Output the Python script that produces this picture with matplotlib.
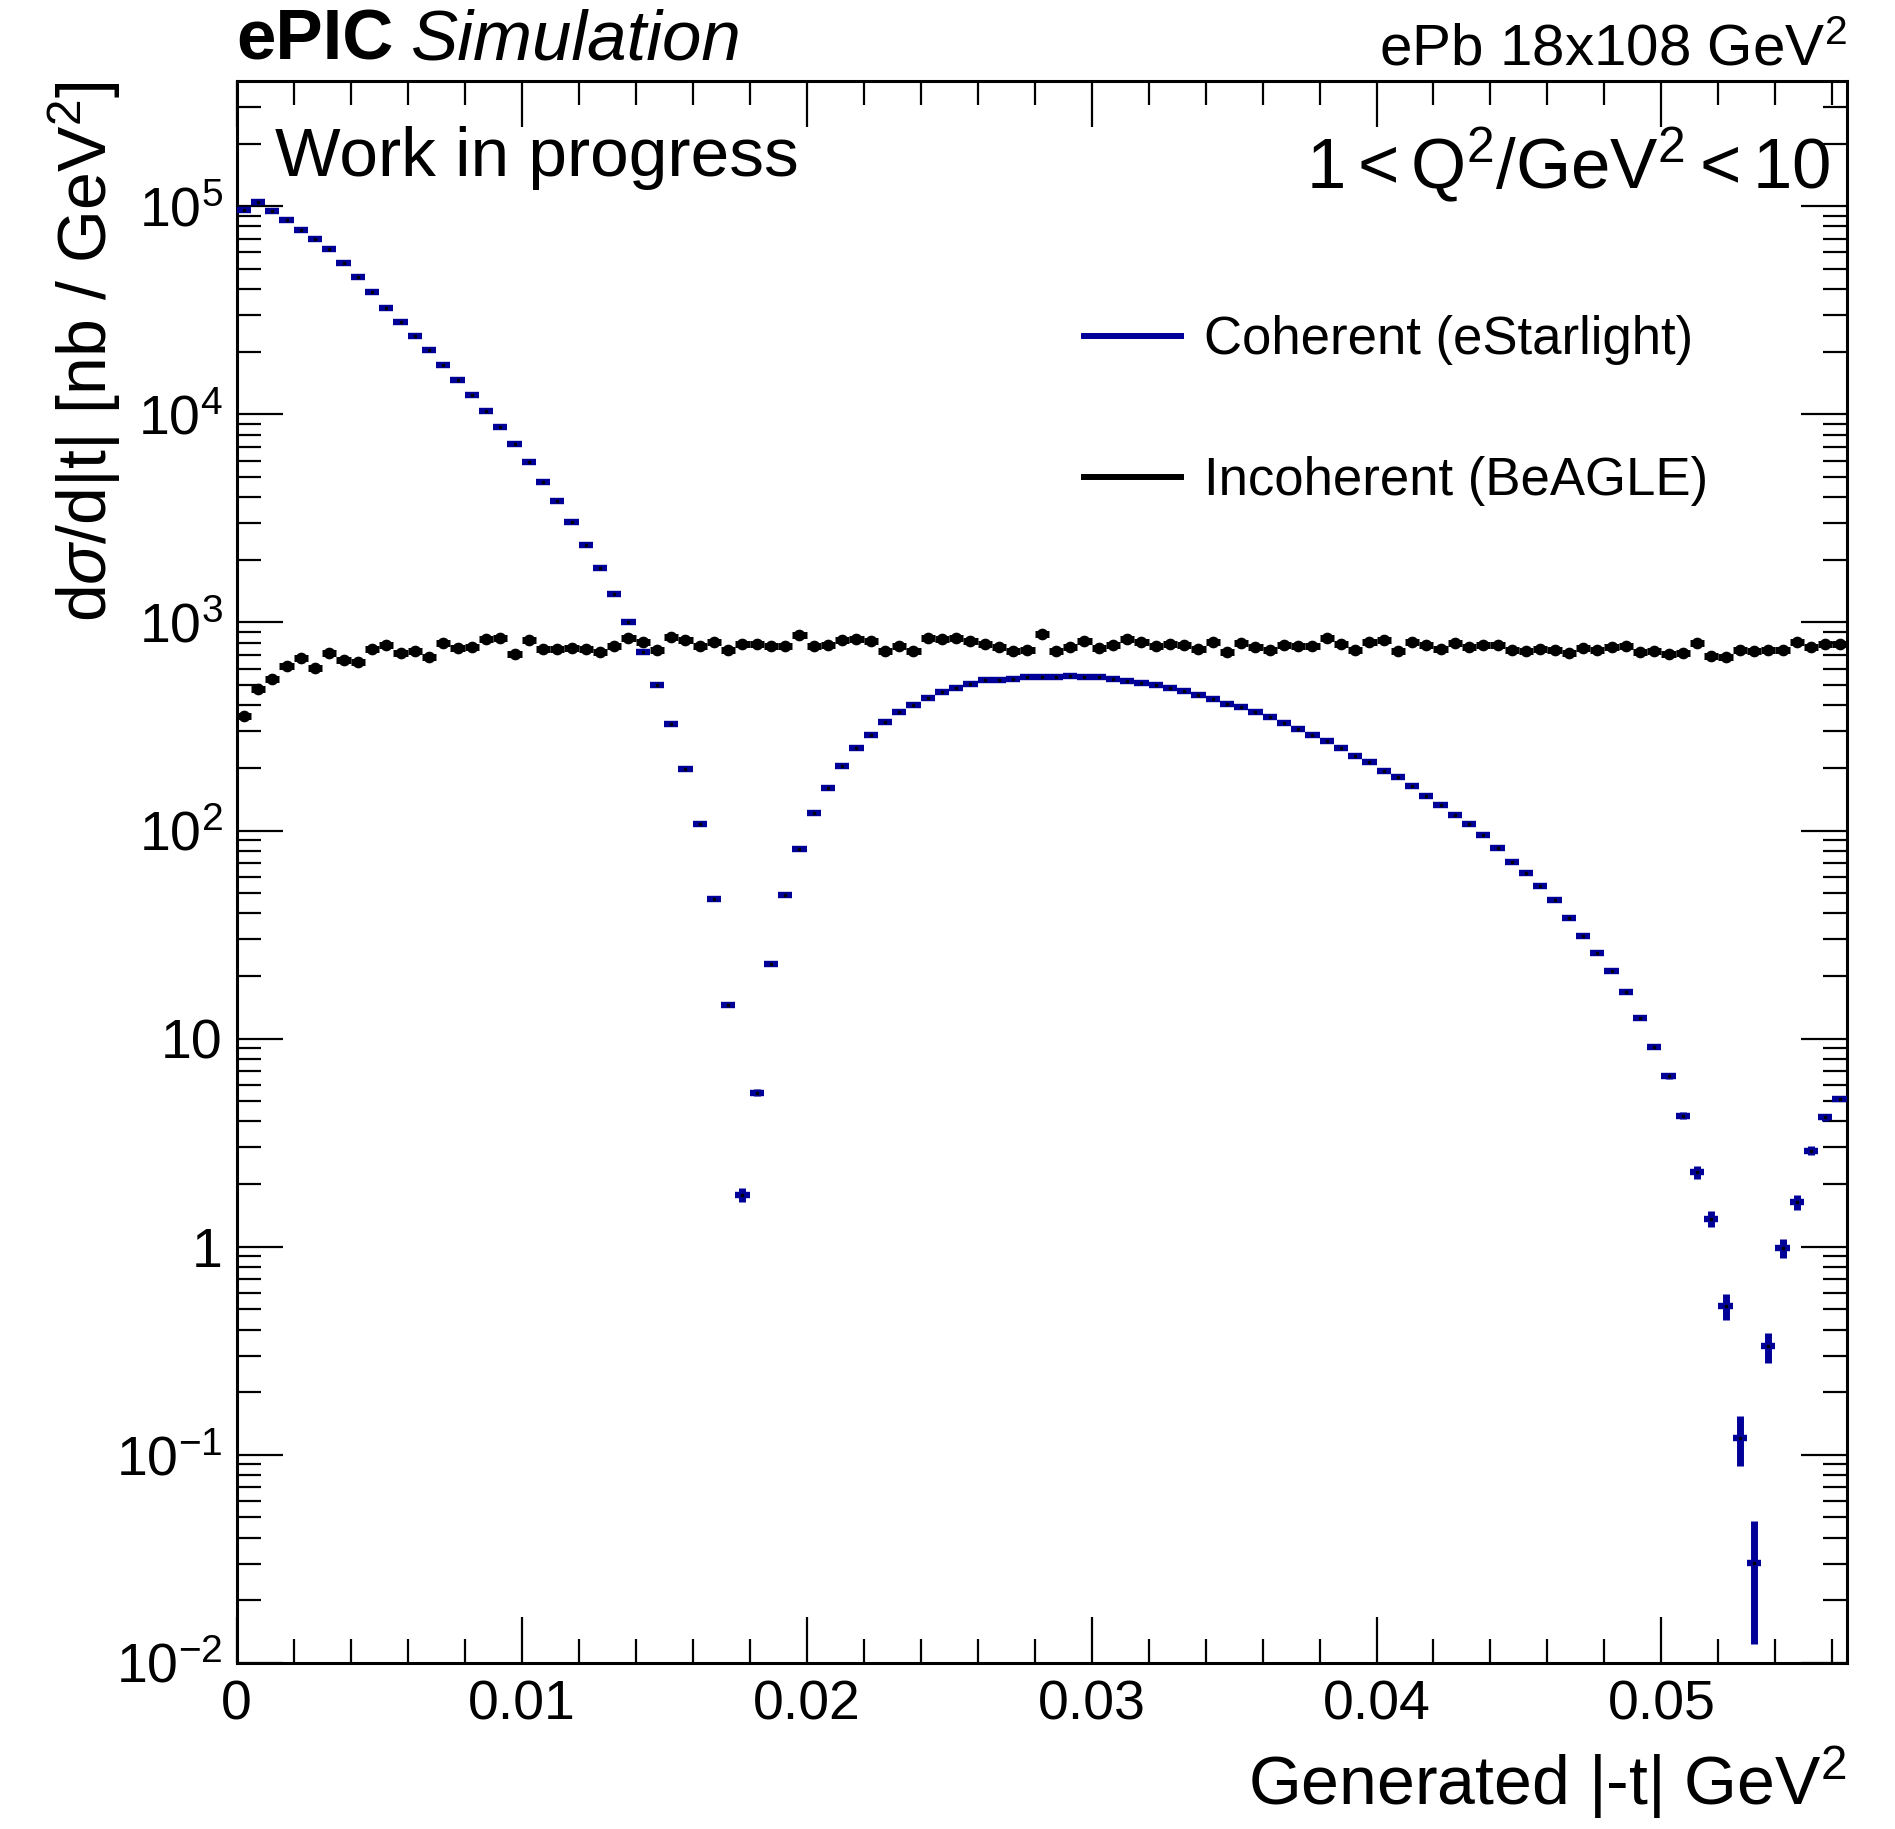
import matplotlib
matplotlib.use("Agg")
import matplotlib.pyplot as plt
from matplotlib.lines import Line2D
from matplotlib.ticker import FixedLocator, FuncFormatter, NullFormatter
import numpy as np

plt.rcParams['font.family'] = ['Liberation Sans', 'DejaVu Sans']
plt.rcParams['mathtext.fontset'] = 'custom'
plt.rcParams['mathtext.rm'] = 'Liberation Sans'
plt.rcParams['mathtext.it'] = 'Liberation Sans:italic'
plt.rcParams['mathtext.bf'] = 'Liberation Sans:bold'

# histogram binning in |t| (GeV^2)
t_edges = np.linspace(0.0, 0.0565, 114)
t_centers = 0.5*(t_edges[1:] + t_edges[:-1])
half_bin = 0.5*(t_edges[1] - t_edges[0])

# coherent (eStarlight), nb/GeV^2
coherent = [
    9.6e4, 1.05e5, 9.5e4, 8.6e4, 7.7e4, 6.95e4, 6.26e4, 5.35e4, 4.57e4, 3.88e4,
    3.25e4, 2.78e4, 2.38e4, 2.03e4, 1.73e4, 1.47e4, 1.24e4, 1.04e4, 8.7e3, 7.2e3,
    5.88e3, 4.75e3, 3.84e3, 3.03e3, 2.35e3, 1.82e3, 1.37e3, 1.01e3, 725, 500,
    325, 198, 107, 47.0, 14.5, 1.78, 5.5, 22.8, 49.1, 81.7,
    122, 161, 204, 248, 288, 331, 370, 402, 435, 461,
    484, 508, 527, 530, 536, 546, 550, 550, 556, 550,
    548, 537, 526, 513, 498, 486, 466, 449, 431, 408,
    393, 372, 353, 330, 306, 287, 269, 249, 228, 213,
    194, 181, 163, 147, 132, 119, 107, 95.1, 82.6, 71.0,
    62.8, 54.2, 46.2, 38.2, 31.3, 25.7, 21.2, 16.7, 12.5, 9.07,
    6.58, 4.27, 2.28, 1.36, 0.521, 0.121, 0.0303, 0.332, 0.99, 1.64,
    2.90, 4.19, 5.15]

# bins where the coherent stat. error is visible
coh_err_bins = [35, 36, 100, 101, 102, 103, 104, 105, 106, 107, 108, 109, 110, 111, 112]
coh_err_vals = [0.14, 0.22, 0.2, 0.17, 0.16, 0.12, 0.075, 0.033, 0.018, 0.055, 0.105, 0.13, 0.15, 0.17, 0.16]

# incoherent (BeAGLE), nb/GeV^2
incoherent = [
    357, 477, 537, 618, 678, 605, 714, 661, 649, 748,
    782, 714, 730, 685, 797, 751, 763, 830, 839, 708,
    820, 748, 749, 755, 746, 722, 768, 843, 803, 738,
    849, 824, 774, 803, 735, 791, 785, 770, 770, 874,
    768, 780, 824, 830, 815, 733, 774, 730, 843, 836,
    843, 815, 788, 760, 726, 740, 881, 733, 760, 815,
    755, 780, 830, 809, 771, 788, 780, 743, 803, 724,
    794, 763, 740, 782, 771, 768, 843, 788, 740, 803,
    827, 727, 803, 782, 748, 794, 766, 782, 776, 740,
    730, 746, 740, 716, 755, 740, 766, 774, 719, 733,
    706, 714, 797, 693, 680, 735, 727, 740, 735, 809,
    766, 788, 788]

# axis ticks
x_major = [0.0, 0.01, 0.02, 0.03, 0.04, 0.05]
x_labels = ['0', '0.01', '0.02', '0.03', '0.04', '0.05']
y_decades = [-2, -1, 0, 1, 2, 3, 4, 5]

blue = '#000099'

fig = plt.figure(figsize=(18.95, 18.29), dpi=100)
ax = fig.add_axes([0.1249, 0.0908, 0.8496, 0.8649])

coherent = np.array(coherent)
incoherent = np.array(incoherent)

# incoherent first, coherent on top
ax.errorbar(t_centers, incoherent, xerr=half_bin, fmt='o', ms=7.4, color='black',
            ecolor='black', elinewidth=5.0, capsize=0, zorder=3)

ax.errorbar(t_centers, coherent, xerr=half_bin, fmt='none', ecolor=blue,
            elinewidth=4.6, capsize=0, zorder=4)
ax.errorbar(t_centers[coh_err_bins], coherent[coh_err_bins], yerr=coh_err_vals,
            fmt='none', ecolor=blue, elinewidth=5.0, capsize=0, zorder=4)
ax.plot(t_centers, coherent, ls='none', marker='s', ms=1.8, color='black', zorder=5)

ax.set_yscale('log')
ax.set_xlim(t_edges[0], t_edges[-1])
ax.set_ylim(0.01, 4e5)

ax.xaxis.set_major_locator(FixedLocator(x_major))
ax.xaxis.set_minor_locator(FixedLocator([m*0.002 for m in range(29) if m % 5 != 0]))
ax.set_xticklabels(x_labels)


def ylab(v, p):
    e = int(round(np.log10(v)))
    if e == 0:
        return '1'
    if e == 1:
        return '10'
    return r'$10^{%d}$' % e


ax.yaxis.set_major_locator(FixedLocator([10.0**e for e in y_decades]))
ax.yaxis.set_minor_locator(FixedLocator([k*10.0**e for e in y_decades for k in range(2, 10)
                                         if k*10.0**e < 4e5]))
ax.yaxis.set_major_formatter(FuncFormatter(ylab))
ax.yaxis.set_minor_formatter(NullFormatter())

ax.tick_params(which='both', direction='in', top=True, right=True, labelsize=40)
ax.tick_params(which='major', length=33, width=1.6)
ax.tick_params(which='minor', length=17, width=1.6)
ax.tick_params(axis='x', pad=12)
ax.tick_params(axis='y', pad=10)
for s in ax.spines.values():
    s.set_linewidth(2.2)

# axis titles, ROOT style (right / top aligned)
fig.text(0.9745, 1 - 1805/1829, r'Generated |-t| GeV$^{2}$', fontsize=49,
         ha='right', va='baseline')
fig.text(0.0567, 0.9557, r'd$\sigma$/d|t| [nb / GeV$^{2}$]', fontsize=49,
         rotation=90, rotation_mode='anchor', ha='right', va='baseline')

# header
t1 = fig.text(0.1249, 1 - 60/1829, 'ePIC', fontsize=51, fontweight='bold',
              ha='left', va='baseline')
fig.canvas.draw()
bb = t1.get_window_extent()
fig.text(bb.x1/fig.bbox.width + 0.009, 1 - 60/1829, 'Simulation', fontsize=51,
         style='italic', ha='left', va='baseline')
fig.text(0.9745, 1 - 65/1829, r'ePb 18x108 GeV$^{2}$', fontsize=42,
         ha='right', va='baseline')

ax.text(0.024, 1 - (176 - 81)/1582, 'Work in progress', fontsize=50,
        transform=ax.transAxes, ha='left', va='baseline')
ax.text(0.990, 1 - (189 - 81)/1582, r'$1 < \mathrm{Q}^{2}/\mathrm{GeV}^{2} < 10$',
        fontsize=51, transform=ax.transAxes, ha='right', va='baseline')

handles = [Line2D([], [], color=blue, lw=4.3), Line2D([], [], color='black', lw=4.3)]
ax.legend(handles, ['Coherent (eStarlight)', 'Incoherent (BeAGLE)'], fontsize=38,
          loc='upper left', bbox_to_anchor=(0.526, 0.852), frameon=False,
          borderpad=0, borderaxespad=0, handlelength=1.84, handletextpad=0.45,
          labelspacing=1.73)

fig.savefig('out.png', dpi=100)
